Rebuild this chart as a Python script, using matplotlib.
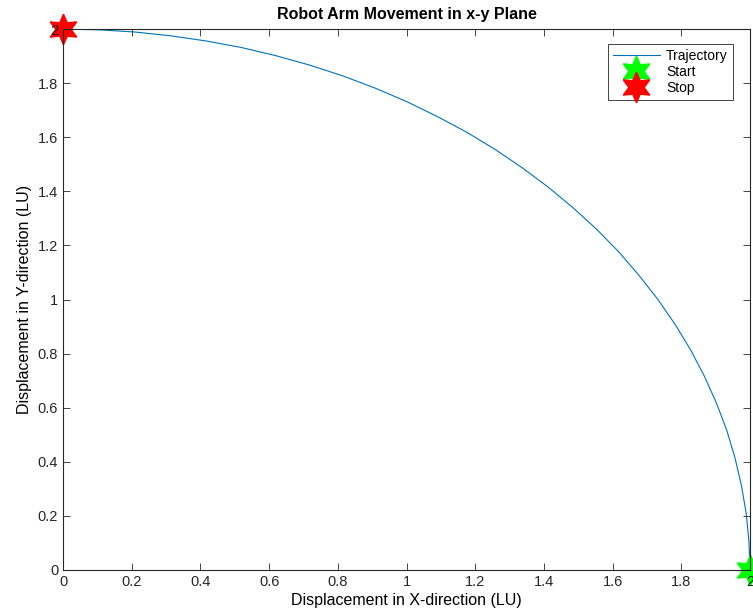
import matplotlib

matplotlib.use("Agg")
import matplotlib.pyplot as plt

# end-effector path (LU)
traj_x = [2.000, 1.997, 1.989, 1.975, 1.956, 1.932, 1.902, 1.867, 1.827, 1.782,
          1.732, 1.677, 1.618, 1.554, 1.486, 1.414, 1.338, 1.259, 1.176, 1.089,
          1.000, 0.908, 0.814, 0.717, 0.618, 0.518, 0.416, 0.313, 0.209, 0.105, 0.000]
traj_y = [0.000, 0.105, 0.209, 0.313, 0.416, 0.518, 0.618, 0.717, 0.814, 0.908,
          1.000, 1.089, 1.176, 1.259, 1.338, 1.414, 1.486, 1.554, 1.618, 1.677,
          1.732, 1.782, 1.827, 1.867, 1.902, 1.932, 1.956, 1.975, 1.989, 1.997, 2.000]
start_pt = (2.0, 0.0)
stop_pt = (0.0, 2.0)
ticks = [0, 0.2, 0.4, 0.6, 0.8, 1, 1.2, 1.4, 1.6, 1.8, 2]
tick_labels = ["0", "0.2", "0.4", "0.6", "0.8", "1", "1.2", "1.4", "1.6", "1.8", "2"]

plt.rcParams.update({
    "font.family": ["Liberation Sans", "DejaVu Sans"],
    "font.size": 10,
    "axes.edgecolor": "#262626",
    "axes.linewidth": 0.8,
    "xtick.direction": "in",
    "ytick.direction": "in",
    "xtick.top": True,
    "ytick.right": True,
    "xtick.color": "#262626",
    "ytick.color": "#262626",
    "xtick.labelcolor": "#262626",
    "ytick.labelcolor": "#262626",
})

fig = plt.figure(figsize=(7.53, 6.15), dpi=100)
ax = fig.add_axes([0.0837, 0.0732, 0.9123, 0.8796])
ax.set_axisbelow(False)

ax.plot(traj_x, traj_y, color="#0072BD", lw=0.8, label="Trajectory")
star = (6, 1, 0)
ax.plot(*start_pt, ls="none", marker=star, ms=22, color="#00FF00", mec="#00FF00",
        label="Start", clip_on=False)
ax.plot(*stop_pt, ls="none", marker=star, ms=22, color="#FF0000", mec="#FF0000",
        label="Stop", clip_on=False)

ax.set_xlim(0, 2)
ax.set_ylim(0, 2)
ax.set_xticks(ticks, tick_labels)
ax.set_yticks(ticks, tick_labels)
ax.tick_params(length=5, width=0.6, labelsize=10.5)

ax.set_xlabel("Displacement in X-direction (LU)", fontsize=11.5, labelpad=3)
ax.set_ylabel("Displacement in Y-direction (LU)", fontsize=11.5, labelpad=4)
ax.set_title("Robot Arm Movement in x-y Plane", fontsize=11.5, fontweight="bold", pad=7)

leg = ax.legend(loc="upper right", bbox_to_anchor=(0.975, 0.972), borderaxespad=0,
                fontsize=10, fancybox=False, edgecolor="#262626", framealpha=1,
                handlelength=3.4, handletextpad=0.45, labelspacing=0.15,
                borderpad=0.35, markerscale=1.0)
leg.get_frame().set_linewidth(0.6)

fig.savefig("out.png", dpi=100)
